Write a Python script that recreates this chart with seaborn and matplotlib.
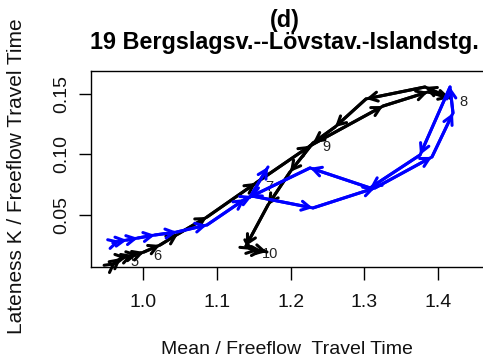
import matplotlib
matplotlib.use("Agg")
import matplotlib.pyplot as plt
import seaborn as sns
from matplotlib.patches import ArrowStyle

# ---- data ----
black_x = [0.9575, 0.9630, 0.9697, 0.9779, 0.9860, 0.9928, 1.0009, 1.0227, 1.0471,
           1.0864, 1.1529, 1.2262, 1.3253, 1.3863, 1.4162, 1.3822, 1.3022, 1.2601,
           1.2302, 1.1990, 1.1692, 1.1393, 1.1475, 1.1556, 1.1624, 1.1678]
black_y = [0.0082, 0.0107, 0.0140, 0.0148, 0.0165, 0.0173, 0.0190, 0.0248, 0.0339,
           0.0480, 0.0763, 0.1070, 0.1400, 0.1517, 0.1467, 0.1558, 0.1459, 0.1226,
           0.1094, 0.0853, 0.0580, 0.0240, 0.0207, 0.0198, 0.0198, 0.0190]
black_label_idx = [2, 6, 10, 14, 18, 22]
black_labels = ["5", "6", "7", "8", "9", "10"]

blue_x = [0.9589, 0.9684, 0.9779, 0.9928, 1.0159, 1.0457, 1.0864, 1.1380, 1.1475,
          1.2302, 1.3144, 1.3917, 1.4202, 1.4162, 1.3755, 1.3076, 1.2262, 1.1448,
          1.1692]
blue_y = [0.0265, 0.0281, 0.0289, 0.0306, 0.0331, 0.0356, 0.0414, 0.0629, 0.0654,
          0.0555, 0.0721, 0.0978, 0.1342, 0.1558, 0.0994, 0.0721, 0.0887, 0.0646,
          0.0895]

x_ticks = [1.0, 1.1, 1.2, 1.3, 1.4]
x_ticklabels = ["1.0", "1.1", "1.2", "1.3", "1.4"]
y_ticks = [0.05, 0.10, 0.15]
y_ticklabels = ["0.05", "0.10", "0.15"]

title_top = "(d)"
title_main = "19 Bergslagsv.--Lövstav.-Islandstg."
x_label = "Mean / Freeflow  Travel Time"
y_label = "Lateness K / Freeflow Travel Time"

# ---- style ----
sns.set_theme(style="white")
plt.rcParams["font.family"] = ["Liberation Sans", "DejaVu Sans"]

W, H = 483, 357
fig = plt.figure(figsize=(W / 100, H / 100), dpi=100)
fig.patch.set_facecolor("white")
ax = fig.add_axes([91 / W, (H - 266.7) / H, (486 - 91) / W, (266.7 - 70.7) / H])
ax.set_facecolor("white")


def draw_path(xs, ys, color, z):
    sns.lineplot(x=xs, y=ys, sort=False, estimator=None, color=color,
                 linewidth=2.2, ax=ax, zorder=z)
    style = ArrowStyle("->", head_length=0.5, head_width=0.27)
    for i in range(len(xs) - 1):
        ax.annotate("", xy=(xs[i + 1], ys[i + 1]), xytext=(xs[i], ys[i]),
                    arrowprops=dict(arrowstyle=style, color=color, lw=2.2,
                                    shrinkA=0, shrinkB=0),
                    zorder=z)


for idx, lab in zip(black_label_idx, black_labels):
    ax.annotate(lab, xy=(black_x[idx], black_y[idx]), xytext=(7, -3),
                textcoords="offset points", ha="left", va="center",
                fontsize=10.5, color="#222222", zorder=1)

draw_path(black_x, black_y, "black", 3)
draw_path(blue_x, blue_y, "#0000ff", 4)

ax.set_xlim(0.929, 1.465)
ax.set_ylim(0.0068, 0.1693)
ax.set_xticks(x_ticks)
ax.set_xticklabels(x_ticklabels)
ax.set_yticks(y_ticks)
ax.set_yticklabels(y_ticklabels, rotation=90, va="center")
ax.set_xlabel("")
ax.set_ylabel("")

for s in ax.spines.values():
    s.set_visible(True)
    s.set_color("black")
    s.set_linewidth(1.0)

ax.tick_params(axis="both", which="both", bottom=True, left=True, direction="out",
               length=9, width=1.0, color="black", labelsize=14, labelcolor="#111111")
ax.tick_params(axis="x", pad=10.5)
ax.tick_params(axis="y", pad=6)

fig.text(286.5 / W, 1 - 354 / H, x_label, ha="center", va="baseline",
         fontsize=14, color="#111111")
fig.text(17 / W, 1 - 176 / H, y_label, ha="center", va="center", rotation=90,
         fontsize=15, color="#111111")
fig.text(284.5 / W, 1 - 27.5 / H, title_top, ha="center", va="baseline",
         fontsize=16.8, fontweight="bold", color="black")
fig.text(284.5 / W, 1 - 49 / H, title_main, ha="center", va="baseline",
         fontsize=16.8, fontweight="bold", color="black")

fig.savefig("out.png", dpi=100, facecolor="white")
